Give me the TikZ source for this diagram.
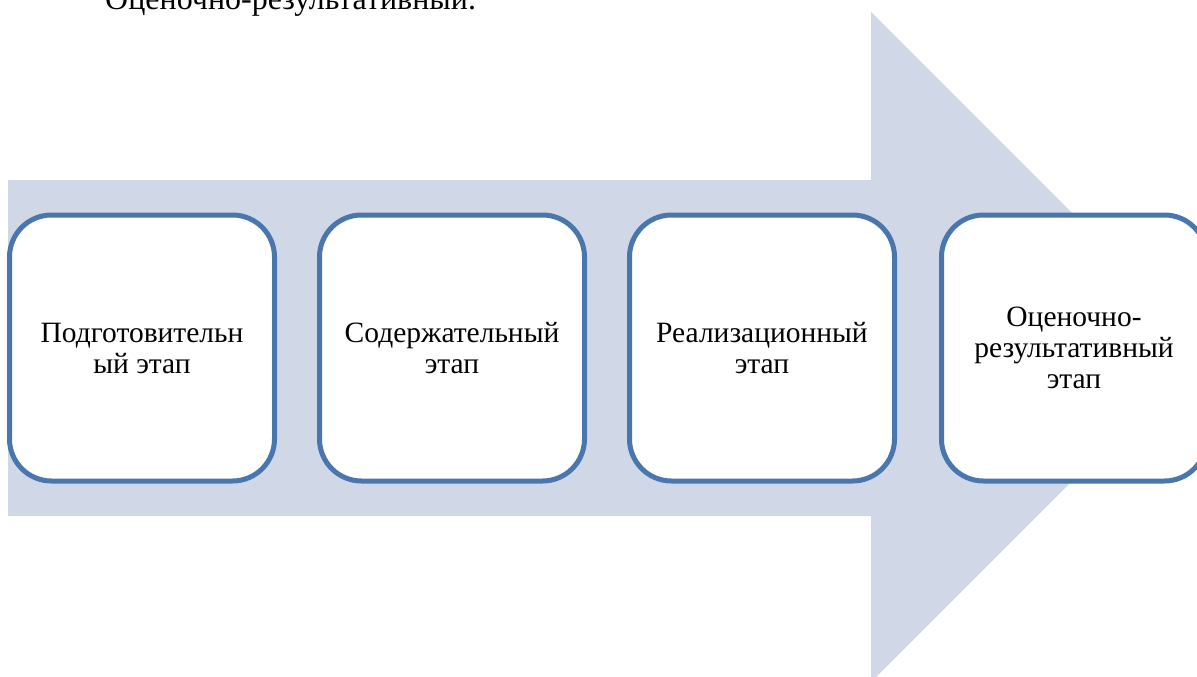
\documentclass[tikz,border=0pt]{standalone}
\usepackage{fontspec}
\setmainfont{Liberation Serif}
\usepackage{tikz}
\usetikzlibrary{shapes,positioning,calc}
\definecolor{fonsin}{HTML}{D0D8E8}
\definecolor{ramka}{HTML}{4A76AE}
\tikzstyle{etap} = [rectangle, rounded corners=42pt, minimum width=265pt, minimum height=266pt,
text centered, align=center, draw=ramka, line width=5pt, fill=white, font=\fontsize{29.5}{31}\selectfont]
\tikzstyle{strelka} = [fill=fonsin, draw=none]

\begin{document}
\begin{tikzpicture}[x=1pt,y=-1pt]
						\useasboundingbox (0,0) rectangle (1197,677);
						\clip (0,0) rectangle (1197,677);
						% arrow
						\fill[strelka] (8,180) -- (871,180) -- (871,12) -- (1206,347) -- (871,682) -- (871,516) -- (8,516) -- cycle;
						\node (t) at (105,10) [anchor=base west,inner sep=0pt,font=\fontsize{32}{36}\selectfont] {Оценочно-результативный.};
						\node (e1) at (142,348) [etap] {Подготовительн\\ый этап};
						\node (e2) at (452,348) [etap] {Содержательный\\этап};
						\node (e3) at (762,348) [etap] {Реализационный\\этап};
						\node (e4) at (1074,348) [etap] {Оценочно-\\результативный\\этап};
					\end{tikzpicture}
\end{document}
